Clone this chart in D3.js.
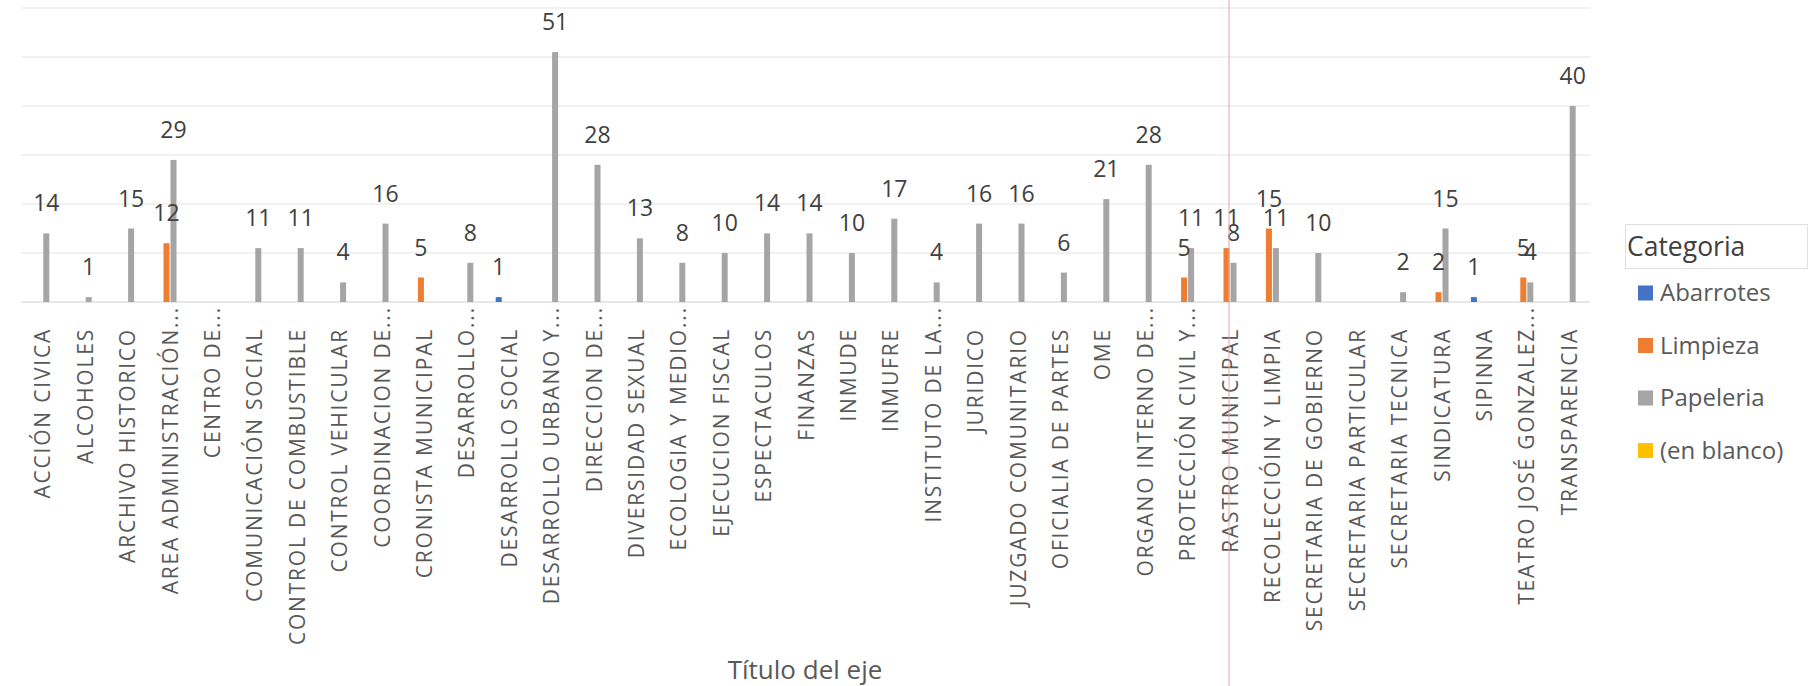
<!DOCTYPE html>
<html lang="es">
<head>
  <meta charset="UTF-8" />
  <title>Categoria por área</title>
  <script src="https://d3js.org/d3.v7.min.js"></script>
  <style>
    body {
      background: #fff;
      margin: 0;
      padding: 0;
      overflow: hidden;
      font-family: "Open Sans", "Noto Sans", sans-serif;
    }
  </style>
</head>
<body>
  <div id="chart"></div>
  <script>
    const areas = [
      "ACCIÓN CIVICA", "ALCOHOLES", "ARCHIVO HISTORICO", "AREA ADMINISTRACIÓN...",
      "CENTRO DE...", "COMUNICACIÓN SOCIAL", "CONTROL DE COMBUSTIBLE", "CONTROL VEHICULAR",
      "COORDINACION DE...", "CRONISTA MUNICIPAL", "DESARROLLO...", "DESARROLLO SOCIAL",
      "DESARROLLO URBANO Y...", "DIRECCION DE...", "DIVERSIDAD SEXUAL", "ECOLOGIA Y MEDIO...",
      "EJECUCION FISCAL", "ESPECTACULOS", "FINANZAS", "INMUDE", "INMUFRE", "INSTITUTO DE LA...",
      "JURIDICO", "JUZGADO COMUNITARIO", "OFICIALIA DE PARTES", "OME", "ORGANO INTERNO DE...",
      "PROTECCIÓN CIVIL Y...", "RASTRO MUNICIPAL", "RECOLECCIÓIN Y LIMPIA", "SECRETARIA DE GOBIERNO",
      "SECRETARIA PARTICULAR", "SECRETARIA TECNICA", "SINDICATURA", "SIPINNA",
      "TEATRO JOSÉ GONZALEZ...", "TRANSPARENCIA"
    ];

    const series = ["Abarrotes", "Limpieza", "Papeleria", "(en blanco)"];
    const colors = ["#4472c4", "#ed7d31", "#a5a5a5", "#ffc000"];

    const abarrotes = [null, null, null, null, null, null, null, null, null, null, null, 1,
      null, null, null, null, null, null, null, null, null, null, null, null, null, null, null,
      null, null, null, null, null, null, null, 1, null, null];
    const limpieza = [null, null, null, 12, null, null, null, null, null, 5, null, null,
      null, null, null, null, null, null, null, null, null, null, null, null, null, null, null,
      5, 11, 15, null, null, null, 2, null, 5, null];
    const papeleria = [14, 1, 15, 29, null, 11, 11, 4, 16, null, 8, null,
      51, 28, 13, 8, 10, 14, 14, 10, 17, 4, 16, 16, 6, 21, 28,
      11, 8, 11, 10, null, 2, 15, null, 4, 40];
    const enBlanco = areas.map(() => null);

    const yTicks = [0, 10, 20, 30, 40, 50, 60];

    const width = 1809, height = 686;
    const plotLeft = 21.6, plotRight = 1590.4;
    const baseY = 302, topY = 8;

    const svg = d3.select("#chart").append("svg")
      .attr("width", width)
      .attr("height", height)
      .style("background", "#fff");

    const x = d3.scaleBand().domain(areas).range([plotLeft, plotRight]).padding(0);
    const xs = d3.scaleBand().domain(series).range([-14, 14]).padding(0);
    const y = d3.scaleLinear().domain([0, 60]).range([baseY, topY]);

    // gridlines
    svg.append("g")
      .selectAll("line")
      .data(yTicks)
      .join("line")
      .attr("x1", plotLeft)
      .attr("x2", plotRight)
      .attr("y1", d => y(d))
      .attr("y2", d => y(d))
      .attr("stroke", d => d === 0 ? "#cfcfcf" : "#e3e3e3")
      .attr("stroke-width", 1.2);

    const values = [abarrotes, limpieza, papeleria, enBlanco];
    const rows = [];
    values.forEach((arr, s) => {
      arr.forEach((v, i) => {
        if (v != null) rows.push({ area: areas[i], s: series[s], color: colors[s], value: v });
      });
    });

    svg.append("g")
      .selectAll("rect")
      .data(rows)
      .join("rect")
      .attr("x", d => x(d.area) + x.bandwidth() / 2 + xs(d.s) + 0.5)
      .attr("width", xs.bandwidth() - 1)
      .attr("y", d => y(d.value))
      .attr("height", d => baseY - y(d.value))
      .attr("fill", d => d.color);

    // data labels
    svg.append("g")
      .selectAll("text")
      .data(rows)
      .join("text")
      .attr("x", d => x(d.area) + x.bandwidth() / 2 + xs(d.s) + xs.bandwidth() / 2)
      .attr("y", d => y(d.value) - 30)
      .attr("dy", "0.35em")
      .attr("text-anchor", "middle")
      .attr("fill", "#404040")
      .style("font-size", "23px")
      .text(d => d.value);

    // category labels (rotated), ellipsis hangs past the end like Excel
    const labelEnd = 328;
    const tick = svg.append("g")
      .selectAll("g")
      .data(areas)
      .join("g")
      .attr("transform", d => `translate(${x(d) + x.bandwidth() / 2},${labelEnd}) rotate(-90)`);

    tick.append("text")
      .attr("text-anchor", "end")
      .attr("dy", "0.36em")
      .attr("fill", "#595959")
      .style("font-size", "21px")
      .style("letter-spacing", "1.8px")
      .text(d => d.replace("...", ""));

    tick.filter(d => d.endsWith("..."))
      .append("text")
      .attr("text-anchor", "start")
      .attr("dy", "0.36em")
      .attr("fill", "#595959")
      .style("font-size", "21px")
      .style("letter-spacing", "1.8px")
      .text("...");

    svg.append("text")
      .attr("x", 805)
      .attr("y", 670)
      .attr("dy", "0.35em")
      .attr("text-anchor", "middle")
      .attr("fill", "#595959")
      .style("font-size", "26px")
      .text("Título del eje");

    // legend
    const legend = svg.append("g");
    legend.append("rect")
      .attr("x", 1625.5)
      .attr("y", 224.5)
      .attr("width", 182)
      .attr("height", 44)
      .attr("fill", "none")
      .attr("stroke", "#e0e0e0");
    legend.append("text")
      .attr("x", 1627)
      .attr("y", 247)
      .attr("dy", "0.35em")
      .attr("fill", "#404040")
      .style("font-size", "26.5px")
      .text("Categoria");

    const item = legend.selectAll("g.item")
      .data(series)
      .join("g")
      .attr("class", "item")
      .attr("transform", (d, i) => `translate(1638,${293 + i * 52.5})`);
    item.append("rect")
      .attr("x", 0)
      .attr("y", -7.5)
      .attr("width", 15)
      .attr("height", 15)
      .attr("fill", (d, i) => colors[i]);
    item.append("text")
      .attr("x", 22)
      .attr("dy", "0.35em")
      .attr("fill", "#595959")
      .style("font-size", "24px")
      .text(d => d);

    // thin red margin line from the scanned page
    svg.append("line")
      .attr("x1", 1229).attr("x2", 1229)
      .attr("y1", 0).attr("y2", height)
      .attr("stroke", "#e6a3a3")
      .attr("stroke-width", 1);
  </script>
</body>
</html>
